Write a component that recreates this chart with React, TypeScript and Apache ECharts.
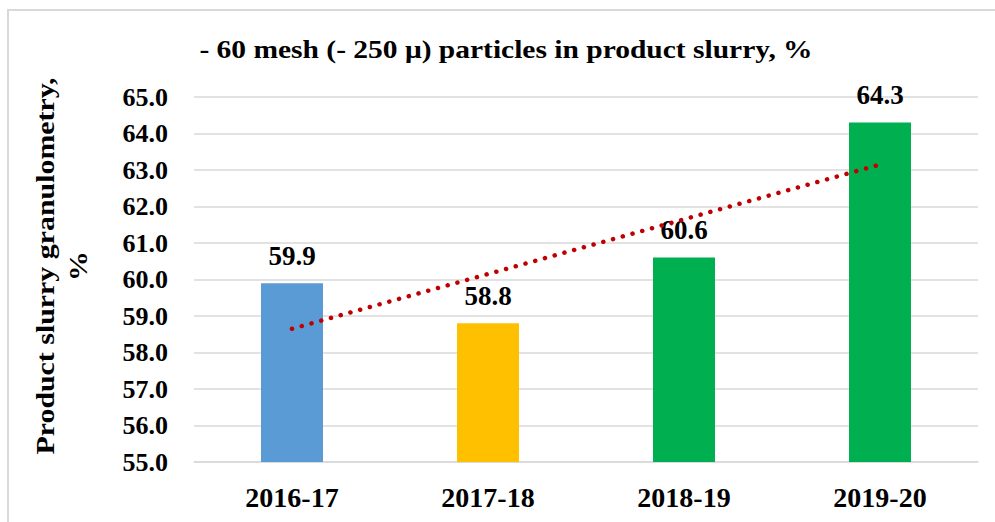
import React, { useEffect, useRef } from "react";
import * as echarts from "echarts";

const categories = ["2016-17", "2017-18", "2018-19", "2019-20"];
const values = [59.9, 58.8, 60.6, 64.3];
const barColors = ["#5B9BD5", "#FFC000", "#00B050", "#00B050"];
const trend = [58.65, null, null, 63.15];
const titleText = "- 60 mesh (- 250 \u03bc) particles in product slurry, %";
const yName = "Product slurry granulometry,\n%";

const FONT = "Liberation Serif";

export default function App() {
  const ref = useRef<HTMLDivElement>(null);
  useEffect(() => {
    if (!ref.current) return;
    const chart = echarts.init(ref.current, undefined, { renderer: "svg" });
    chart.setOption({
      animation: false,
      backgroundColor: "#fff",
      grid: { left: 194, right: 17, top: 97, bottom: 60 },
      graphic: [
        {
          type: "rect",
          shape: { x: 8, y: 10, width: 1100, height: 1000 },
          style: { fill: "none", stroke: "#D9D9D9", lineWidth: 2 },
          z: -1,
        },
        {
          type: "text",
          x: 506,
          y: 50,
          scaleX: 1.18,
          style: {
            text: titleText,
            textAlign: "center",
            textVerticalAlign: "middle",
            font: `bold 25px ${FONT}`,
            fill: "#000",
          },
        },
        {
          type: "text",
          x: 62,
          y: 266,
          rotation: Math.PI / 2,
          scaleX: 1.15,
          style: {
            text: yName,
            textAlign: "center",
            textVerticalAlign: "middle",
            font: `bold 26px ${FONT}`,
            lineHeight: 33,
            fill: "#000",
          },
        },
      ],
      xAxis: {
        type: "category",
        data: categories,
        axisTick: { show: false },
        axisLine: { lineStyle: { color: "#D9D9D9", width: 1.5 } },
        axisLabel: {
          margin: 21,
          fontFamily: FONT,
          fontWeight: "bold",
          fontSize: 28,
          color: "#000",
        },
      },
      yAxis: {
        type: "value",
        min: 55,
        max: 65,
        interval: 1,
        axisLine: { show: false },
        axisTick: { show: false },
        splitLine: { lineStyle: { color: "#D9D9D9", width: 1.5 } },
        axisLabel: {
          margin: 26,
          fontFamily: FONT,
          fontWeight: "bold",
          fontSize: 26,
          color: "#000",
          formatter: (v: number) => v.toFixed(1),
        },
      },
      series: [
        {
          type: "bar",
          barWidth: 62,
          data: values.map((v, i) => ({ value: v, itemStyle: { color: barColors[i] } })),
          label: {
            show: true,
            position: "top",
            distance: 14,
            fontFamily: FONT,
            fontWeight: "bold",
            fontSize: 27,
            color: "#000",
            formatter: (p: any) => Number(p.value).toFixed(1),
          },
          z: 2,
        },
        {
          type: "line",
          data: trend,
          connectNulls: true,
          symbol: "none",
          silent: true,
          lineStyle: { color: "#C00000", width: 4.5, type: [0.1, 10], cap: "round" },
          z: 3,
        },
      ],
    });
    return () => chart.dispose();
  }, []);
  return (
    <div
      ref={ref}
      style={{ position: "absolute", left: 0, top: 0, width: 995, height: 522 }}
    />
  );
}
